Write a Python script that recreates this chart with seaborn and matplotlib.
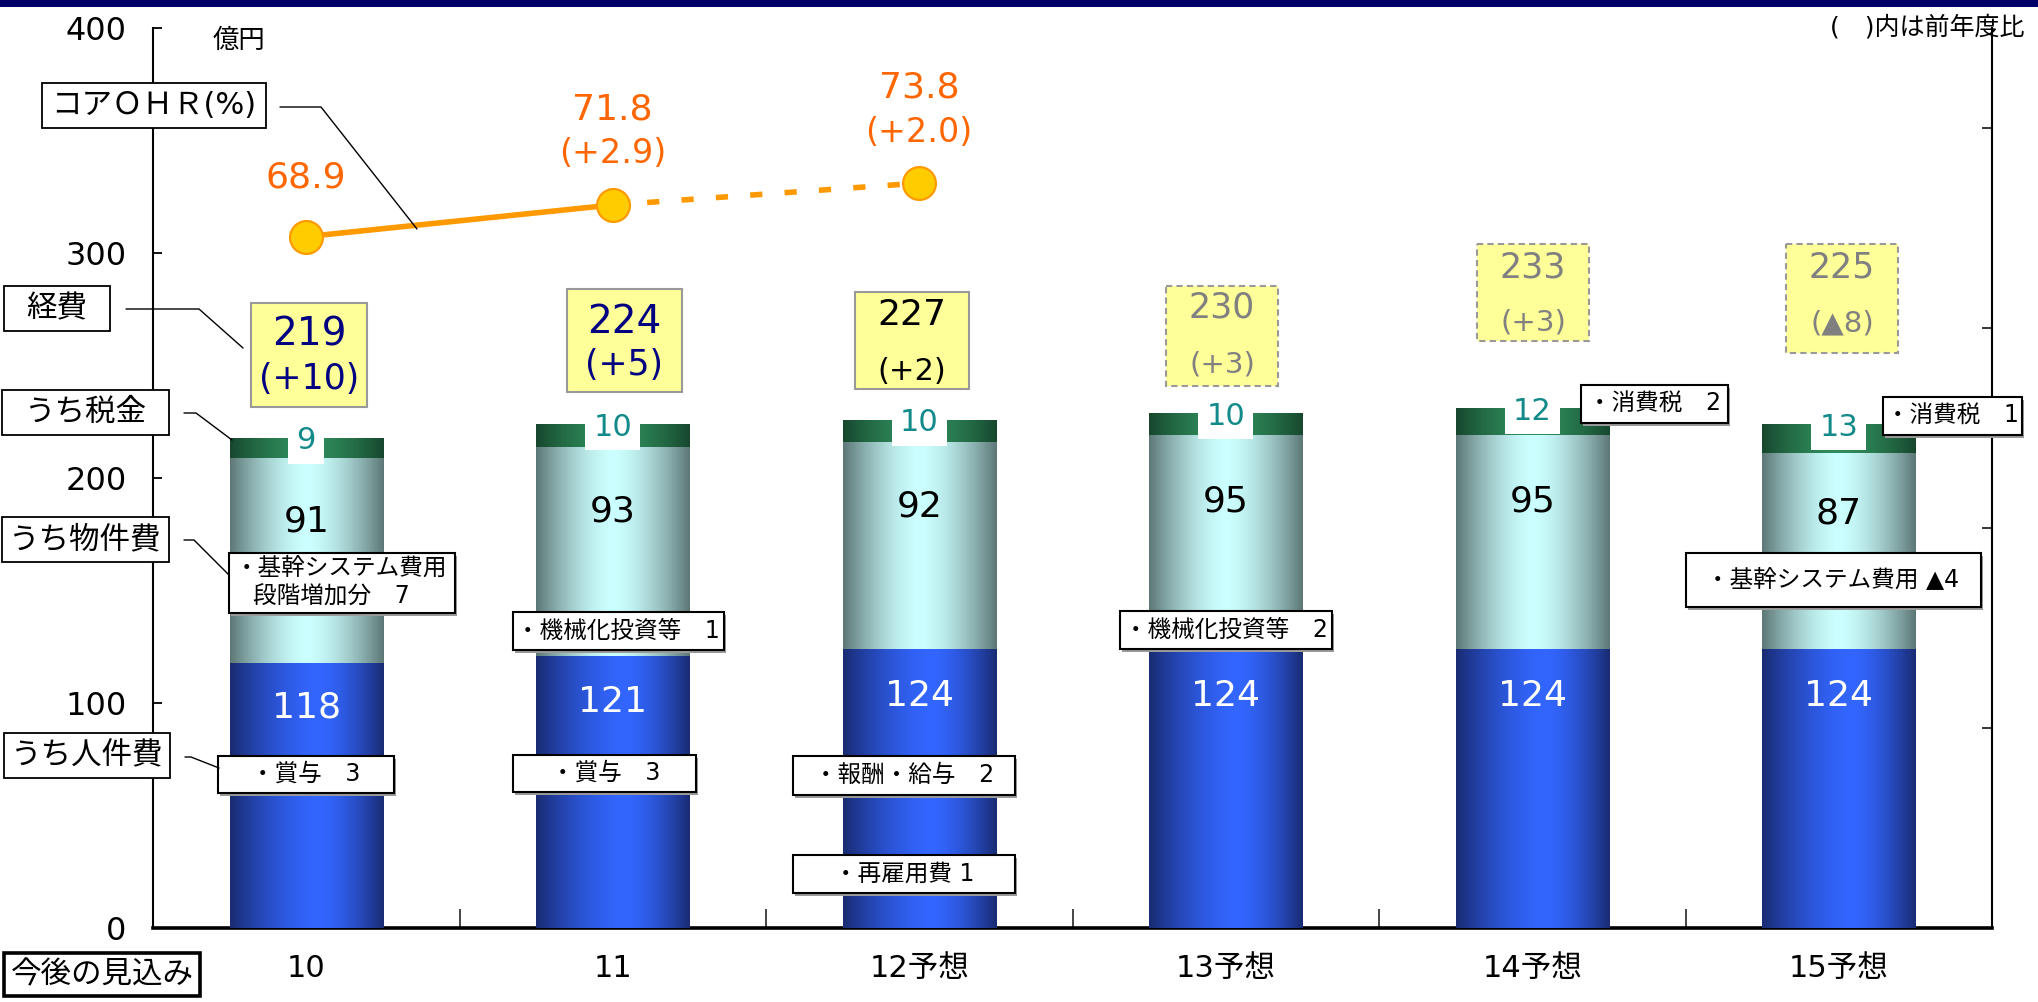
import numpy as np
import pandas as pd
import matplotlib
matplotlib.use("Agg")
import matplotlib.pyplot as plt
from matplotlib.colors import to_rgb
from matplotlib.patches import Rectangle
from matplotlib.ticker import FixedLocator
import seaborn as sns

# ---- data -------------------------------------------------------------
years = ["10", "11", "12予想", "13予想", "14予想", "15予想"]
personnel = [118, 121, 124, 124, 124, 124]          # うち人件費
property_cost = [91, 93, 92, 95, 95, 87]           # うち物件費
tax = [9, 10, 10, 10, 12, 13]                       # うち税金
total_label = [219, 224, 227, 230, 233, 225]        # 経費
total_change = ["+10", "+5", "+2", "+3", "+3", "▲8"]
ohr = [68.9, 71.8, 73.8]                            # コアOHR(%)
ohr_change = ["", "+2.9", "+2.0"]

# ---- colours ----------------------------------------------------------
BLUE_EDGE, BLUE_MID = "#192b72", "#3366ff"
PROP_EDGE, PROP_MID = "#5c7776", "#ccffff"
TAX_EDGE, TAX_MID = "#17472e", "#2f8d5c"
TEAL = "#138a8a"
LINE = "#ff9900"
MARK = "#ffcc00"
OHR_TXT = "#ff6600"
YELLOW = "#ffff99"
NAVY_TXT = "#000080"
GRAY_TXT = "#808080"

sns.set_theme(style="white")
plt.rcParams["font.family"] = ["DejaVu Sans", "Noto Sans CJK JP"]

W, H, DPI = 2038, 1002, 100
fig = plt.figure(figsize=(W / DPI, H / DPI), dpi=DPI)
ax = fig.add_axes([153 / W, 1 - 928 / H, (1992 - 153) / W, (928 - 28) / H])


def cylinder(edge, mid, peak=0.5, power=1.6, n=256):
    t = np.linspace(0, 1, n)
    d = np.where(t < peak, (peak - t) / peak, (t - peak) / (1 - peak))
    f = 1 - d ** power
    e, c = np.array(to_rgb(edge)), np.array(to_rgb(mid))
    return (e + (c - e) * f[:, None])[None, :, :]


df = pd.DataFrame({"year": years, "personnel": personnel,
                   "property": property_cost, "tax": tax})
df["upto_property"] = df["personnel"] + df["property"]
df["upto_tax"] = df["upto_property"] + df["tax"]

# stacked columns drawn as overlapping cumulative layers, shaded like cylinders
layers = [("upto_tax", TAX_EDGE, TAX_MID, 0.5, 1),
          ("upto_property", PROP_EDGE, PROP_MID, 0.5, 2),
          ("personnel", BLUE_EDGE, BLUE_MID, 0.58, 3)]
for col, edge, mid, peak, z in layers:
    n0 = len(ax.patches)
    sns.barplot(data=df, x="year", y=col, order=years, width=0.5, color=mid,
                saturation=1, errorbar=None, ax=ax)
    grad = cylinder(edge, mid, peak)
    for p in ax.patches[n0:]:
        p.set_facecolor("none")
        p.set_edgecolor("none")
        x0, w, h = p.get_x(), p.get_width(), p.get_height()
        im = ax.imshow(grad, extent=(x0, x0 + w, 0, h), aspect="auto",
                       interpolation="bilinear", zorder=z)
        im.set_clip_path(p)

# segment values
for i in range(len(years)):
    ax.text(i, 0.83 * personnel[i], str(personnel[i]), color="white",
            fontsize=26, ha="center", va="center", zorder=6)
    top = personnel[i] + property_cost[i]
    ax.text(i, top - 0.31 * property_cost[i], str(property_cost[i]),
            color="black", fontsize=26, ha="center", va="center", zorder=6)
    ax.text(i, top + tax[i] - 1.5, str(tax[i]), color=TEAL, fontsize=22,
            ha="center", va="center", zorder=6,
            bbox=dict(boxstyle="square,pad=0.27", fc="white", ec="none"))

ax.set_xlim(-0.5, len(years) - 0.5)
ax.set_ylim(0, 400)
ax.set_xlabel("")
ax.set_ylabel("")
ax.set_yticks([0, 100, 200, 300, 400])
ax.set_xticks(range(len(years)))
ax.set_xticklabels(years)
ax.xaxis.set_minor_locator(FixedLocator(np.arange(0.5, len(years) - 1, 1.0)))
ax.tick_params(axis="y", direction="in", length=6.5, width=1.3,
               labelsize=23, pad=19, colors="black", left=True)
ax.tick_params(axis="x", which="major", length=0, labelsize=22, pad=19,
               colors="black")
ax.tick_params(axis="x", which="minor", direction="in", length=14,
               width=1.2, bottom=True)
for s in ("top", "right"):
    ax.spines[s].set_visible(False)
ax.spines["left"].set_linewidth(1.5)
ax.spines["left"].set_color("black")
ax.spines["bottom"].set_linewidth(2.6)
ax.spines["bottom"].set_color("black")

# ---- core OHR on the secondary axis ------------------------------------
ax2 = ax.twinx()
lo, hi = 5.6, 88.0
ax2.set_ylim(lo, hi)
ax2.yaxis.set_major_locator(FixedLocator(lo + (hi - lo) * np.array([2, 4, 6, 8]) / 9))
ax2.tick_params(axis="y", direction="in", length=7, width=1.3,
                labelright=False, right=True)
for s in ("top", "left", "bottom"):
    ax2.spines[s].set_visible(False)
ax2.spines["right"].set_linewidth(1.5)
ax2.spines["right"].set_color("black")
ax2.set_ylabel("")

ohr_df = pd.DataFrame({"x": np.arange(len(ohr)), "ohr": ohr})
sns.lineplot(data=ohr_df.iloc[:2], x="x", y="ohr", ax=ax2, color=LINE,
             linewidth=4, solid_capstyle="butt")
sns.lineplot(data=ohr_df.iloc[1:], x="x", y="ohr", ax=ax2, color=LINE,
             linewidth=4, linestyle=(0, (2.2, 4.0)), dash_capstyle="butt")
sns.scatterplot(data=ohr_df, x="x", y="ohr", ax=ax2, s=560, color=MARK,
                edgecolor=LINE, linewidth=1.6, zorder=5)
ax2.set_xlabel("")
ax2.set_ylabel("")
ax2.set_xlim(-0.5, len(years) - 0.5)

for i, (v, ch) in enumerate(zip(ohr, ohr_change)):
    if ch:
        ax2.annotate(f"{v}", (i, v), xytext=(0, 69), textcoords="offset points",
                     ha="center", va="center", fontsize=26, color=OHR_TXT)
        ax2.annotate(f"({ch})", (i, v), xytext=(0, 36.7), textcoords="offset points",
                     ha="center", va="center", fontsize=24, color=OHR_TXT)
    else:
        ax2.annotate(f"{v}", (i, v), xytext=(0, 42.5), textcoords="offset points",
                     ha="center", va="center", fontsize=26, color=OHR_TXT)

# ---- annotation layer in pixel coordinates ------------------------------
ov = fig.add_axes([0, 0, 1, 1], zorder=10)
ov.set_xlim(0, W)
ov.set_ylim(H, 0)
ov.axis("off")
ov.patch.set_alpha(0)

ov.add_patch(Rectangle((0, 0), W, 7, fc="#000066", ec="none"))


def box(x0, y0, x1, y1, fc="white", ec="black", lw=1.2, ls="-", shadow=False):
    if shadow:
        ov.add_patch(Rectangle((x0 + 2.5, y0 + 2.5), x1 - x0, y1 - y0,
                               fc="#9a9a9a", ec="none"))
    ov.add_patch(Rectangle((x0, y0), x1 - x0, y1 - y0, fc=fc, ec=ec,
                           lw=lw, ls=ls))


def txt(x, y, s, size=17, color="black", ha="center"):
    ov.text(x, y, s, fontsize=size, color=color, ha=ha, va="center")


# legend-style labels with leader lines
leaders = [
    ((42, 83, 266, 128), "コアＯＨＲ(%)", [(280, 107), (321, 107), (417, 229)]),
    ((4, 286, 110, 331), "経費", [(126, 309), (199, 309), (243, 348)]),
    ((2, 390, 169, 435), "うち税金", [(184, 413), (196, 413), (232, 440)]),
    ((2, 517, 169, 562), "うち物件費", [(184, 540), (194, 540), (229, 575)]),
    ((4, 733, 170, 778), "うち人件費", [(185, 757), (191, 757), (219, 768)]),
]
for (x0, y0, x1, y1), label, pts in leaders:
    box(x0, y0, x1, y1, lw=1.3)
    txt((x0 + x1) / 2, (y0 + y1) / 2, label, size=22)
    xs, ys = zip(*pts)
    ov.plot(xs, ys, color="black", lw=1.0)

box(4, 953, 200, 996, lw=2.6)
txt(102, 975, "今後の見込み", size=22)

txt(239, 41, "億円", size=19)
txt(2025, 27, "(　)内は前年度比", size=18, ha="right")

# total cost boxes
total_boxes = [(251, 303, 367, 407, 335, 379), (567, 289, 682, 392, 322, 365),
               (855, 292, 969, 389, 315, 372), (1166, 286, 1278, 386, 308, 365),
               (1477, 244, 1589, 341, 267, 323), (1786, 244, 1898, 353, 267, 323)]
total_style = [(NAVY_TXT, "-", 28, 25), (NAVY_TXT, "-", 28, 25),
               ("black", "-", 26, 22), (GRAY_TXT, (0, (3, 2)), 25, 21),
               (GRAY_TXT, (0, (3, 2)), 25, 21), (GRAY_TXT, (0, (3, 2)), 25, 21)]
for (x0, y0, x1, y1, ya, yb), (col, ls, s1, s2), val, ch in zip(
        total_boxes, total_style, total_label, total_change):
    box(x0, y0, x1, y1, fc=YELLOW, ec="#999999", lw=1.5, ls=ls)
    cx = (x0 + x1) / 2
    txt(cx, ya, str(val), size=s1, color=col)
    txt(cx, yb, f"({ch})", size=s2, color=col)

# breakdown notes
notes = [
    ((218, 756, 394, 793), [(306, 774, "・賞与　3", "center")]),
    ((513, 755, 696, 792), [(606, 773, "・賞与　3", "center")]),
    ((793, 756, 1015, 795), [(904, 775, "・報酬・給与　2", "center")]),
    ((793, 855, 1015, 893), [(904, 874, "・再雇用費 1", "center")]),
    ((513, 612, 724, 650), [(618, 631, "・機械化投資等　1", "center")]),
    ((1120, 611, 1332, 649), [(1226, 630, "・機械化投資等　2", "center")]),
    ((229, 553, 455, 613), [(235, 568, "・基幹システム費用", "left"),
                            (253, 597, "段階増加分　7", "left")]),
    ((1581, 385, 1728, 423), [(1655, 404, "・消費税　2", "center")]),
    ((1883, 397, 2022, 435), [(1952, 416, "・消費税　1", "center")]),
    ((1686, 553, 1981, 607), [(1833, 580, "・基幹システム費用 ▲4", "center")]),
]
for (x0, y0, x1, y1), lines in notes:
    box(x0, y0, x1, y1, lw=1.5, shadow=True)
    for x, y, s, ha in lines:
        txt(x, y, s, size=17, ha=ha)

fig.savefig("out.png", dpi=DPI)
